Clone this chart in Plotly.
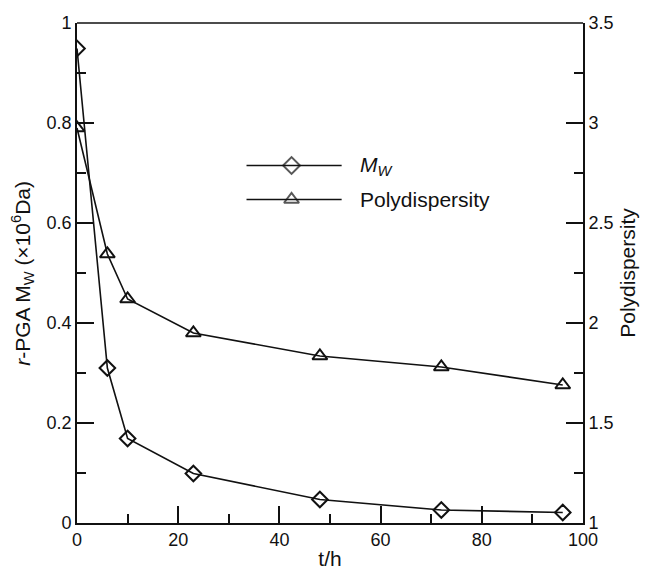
import plotly.graph_objects as go

# Data
t_hours = [0, 6, 10, 23, 48, 72, 96]
mw_values = [0.949, 0.31, 0.169, 0.099, 0.047, 0.026, 0.021]
polydispersity = [2.975, 2.345, 2.12, 1.95, 1.835, 1.78, 1.69]
legend_labels = ["<i>M<sub>W</sub></i>", "Polydispersity"]
legend_symbols = ["diamond-open", "triangle-up-open"]

FONT = "Liberation Sans, Arial, sans-serif"
INK = "#111111"

fig = go.Figure()
fig.add_trace(go.Scatter(
    x=t_hours, y=mw_values, mode="lines+markers", yaxis="y", xaxis="x",
    line=dict(color=INK, width=1.6),
    marker=dict(symbol="diamond-open", size=12, color=INK, line=dict(width=2, color=INK)),
    showlegend=False))
fig.add_trace(go.Scatter(
    x=t_hours, y=polydispersity, mode="lines+markers", yaxis="y2", xaxis="x",
    line=dict(color=INK, width=1.6),
    marker=dict(symbol="triangle-up-open", size=13, color=INK, line=dict(width=2, color=INK)),
    showlegend=False))

# custom legend: sample line + marker placed on the left axes (range 0..100 x 0..1)
leg_rows = [0.715, 0.647]
for lab, sym, ry in zip(legend_labels, legend_symbols, leg_rows):
    fig.add_trace(go.Scatter(
        x=[33.5, 42.4, 52.3], y=[ry, ry, ry], xaxis="x", yaxis="y",
        mode="lines+markers", line=dict(color=INK, width=1.6),
        marker=dict(symbol=sym, size=[0, 13, 0], color=INK, line=dict(width=2, color=INK)),
        showlegend=False, hoverinfo="skip"))
    fig.add_annotation(x=55.5, y=ry, xref="x", yref="y", text=lab, showarrow=False,
                       xanchor="left", yanchor="middle",
                       font=dict(family=FONT, size=21, color=INK))

# left axis title as a rotated annotation
fig.add_annotation(x=-0.109, y=0.5, xref="paper", yref="paper", textangle=-90,
                   text="<i>r</i>-PGA M<sub>W</sub> (×10<sup>6</sup>Da)", showarrow=False,
                   xanchor="center", yanchor="middle",
                   font=dict(family=FONT, size=21, color=INK))

# top frame line
fig.add_shape(type="line", xref="paper", yref="paper", x0=0, x1=1, y0=1, y1=1,
              line=dict(color=INK, width=1.6))

axis_common = dict(
    showgrid=False, zeroline=False, showline=True, linecolor=INK, linewidth=1.6,
    ticks="inside", tickcolor=INK, tickwidth=1.6, ticklen=17,
    tickfont=dict(family=FONT, size=18, color=INK),
)

fig.update_layout(
    width=654, height=579,
    margin=dict(l=77, r=71, t=23, b=50),
    paper_bgcolor="white", plot_bgcolor="white",
    xaxis=dict(**axis_common, range=[0, 100], tick0=0, dtick=20,
               minor=dict(ticks="inside", ticklen=9, tickcolor=INK, tickwidth=1.6, dtick=10),
               title=dict(text="t/h", font=dict(family=FONT, size=21, color=INK), standoff=2)),
    yaxis=dict(**axis_common, range=[0, 1], tick0=0, dtick=0.2,
               minor=dict(ticks="inside", ticklen=9, tickcolor=INK, tickwidth=1.6, dtick=0.1)),
    yaxis2=dict(**axis_common, range=[1, 3.5], overlaying="y", side="right", tick0=1, dtick=0.5,
                minor=dict(ticks="inside", ticklen=9, tickcolor=INK, tickwidth=1.6, dtick=0.25),
                title=dict(text="Polydispersity", font=dict(family=FONT, size=21, color=INK), standoff=8)),
)

fig.write_html("out.html")
